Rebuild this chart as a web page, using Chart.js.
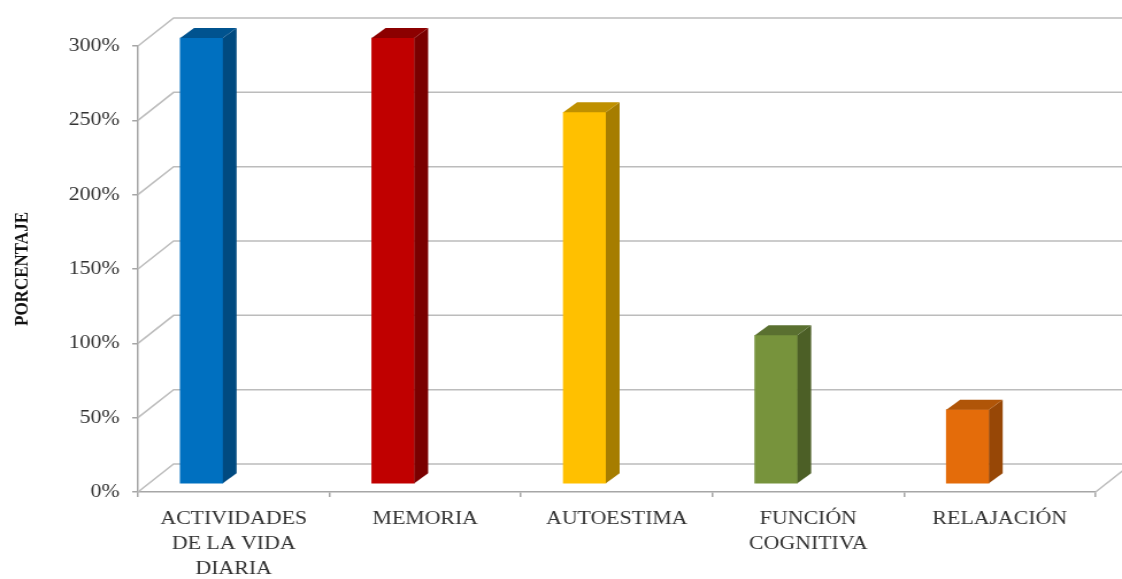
<!DOCTYPE html>
<html>
<head>
<meta charset="utf-8">
<script src="https://cdn.jsdelivr.net/npm/chart.js@4.4.1/dist/chart.umd.min.js"></script>
<style>
  html, body { margin: 0; padding: 0; background: #fff; overflow: hidden; }
  /* the source picture is stretched sideways, so the canvas is too */
  #wrap { width: 976px; height: 579px; transform: scaleX(1.1496); transform-origin: 0 0; }
</style>
</head>
<body>
<div id="wrap"><canvas id="myChart" width="976" height="579"></canvas></div>
<script>
const categories = [
  ['ACTIVIDADES', 'DE LA VIDA', 'DIARIA'],
  'MEMORIA',
  'AUTOESTIMA',
  ['FUNCIÓN', 'COGNITIVA'],
  'RELAJACIÓN'
];
const porcentaje = [300, 300, 250, 100, 50];
const yTicks = [0, 50, 100, 150, 200, 250, 300];

const frontColors = ['#0070c0', '#c00000', '#ffc000', '#77933c', '#e46c0a'];
const sideColors = ['#004a80', '#7a0000', '#a67d00', '#4c5f26', '#974706'];
const topColors = ['#00538f', '#8c0000', '#bf9000', '#5a7030', '#b05508'];

const WALL_DX = 31, WALL_DY = 28;   // depth of the back wall
const BAR_DX = 12, BAR_DY = 10;     // depth of each column
const BAR_SHIFT_X = -28, BAR_SHIFT_Y = -8;
const SERIF = "'Liberation Serif', 'Times New Roman', serif";

const depthPlugin = {
  id: 'depth',
  beforeDatasetsDraw(chart) {
    const { ctx, chartArea: a, scales: { y } } = chart;
    ctx.save();
    ctx.strokeStyle = '#bcbcbc';
    ctx.lineWidth = 1.5;
    y.ticks.forEach((t) => {
      const py = y.getPixelForValue(t.value);
      ctx.beginPath();
      ctx.moveTo(a.left, py);
      ctx.lineTo(a.left + WALL_DX, py - WALL_DY);
      ctx.lineTo(chart.width, py - WALL_DY);
      ctx.stroke();
    });
    ctx.beginPath();
    ctx.moveTo(a.right, a.bottom);
    ctx.lineTo(a.right + WALL_DX, a.bottom - WALL_DY);
    ctx.stroke();
    ctx.restore();

    // columns sit a little behind the front of the floor
    ctx.save();
    ctx.translate(BAR_SHIFT_X, BAR_SHIFT_Y);
  },
  afterDatasetsDraw(chart) {
    const { ctx } = chart;
    chart.getDatasetMeta(0).data.forEach((bar, i) => {
      const { x, y, base, width } = bar.getProps(['x', 'y', 'base', 'width'], true);
      const l = x - width / 2, r = x + width / 2;
      ctx.fillStyle = sideColors[i];
      ctx.beginPath();
      ctx.moveTo(r, y);
      ctx.lineTo(r + BAR_DX, y - BAR_DY);
      ctx.lineTo(r + BAR_DX, base - BAR_DY);
      ctx.lineTo(r, base);
      ctx.closePath();
      ctx.fill();
      ctx.fillStyle = topColors[i];
      ctx.beginPath();
      ctx.moveTo(l, y);
      ctx.lineTo(l + BAR_DX, y - BAR_DY);
      ctx.lineTo(r + BAR_DX, y - BAR_DY);
      ctx.lineTo(r, y);
      ctx.closePath();
      ctx.fill();
    });
    ctx.restore();
  }
};

new Chart(document.getElementById('myChart').getContext('2d'), {
  type: 'bar',
  data: {
    labels: categories,
    datasets: [{
      data: porcentaje,
      backgroundColor: frontColors,
      borderWidth: 0,
      barThickness: 37,
      clip: false
    }]
  },
  options: {
    responsive: false,
    animation: false,
    devicePixelRatio: 1,
    layout: { padding: { left: 0, right: 23, top: 46, bottom: 0 } },
    plugins: {
      legend: { display: false },
      tooltip: { enabled: false }
    },
    scales: {
      x: {
        afterFit: (s) => { s.height = 87; },
        grid: { drawOnChartArea: false, drawTicks: true, tickLength: 5, color: '#a6a6a6', lineWidth: 1.5 },
        border: { display: true, color: '#a6a6a6', width: 1.5 },
        ticks: {
          autoSkip: false, maxRotation: 0, padding: 10, color: '#333333',
          font: { family: SERIF, size: 19, lineHeight: 1.3 }
        }
      },
      y: {
        min: 0,
        max: 300,
        afterFit: (s) => { s.width = 120; },
        afterBuildTicks: (s) => { s.ticks = yTicks.map((v) => ({ value: v })); },
        grid: { drawOnChartArea: false, drawTicks: true, tickLength: 5, color: '#a6a6a6', lineWidth: 1.5 },
        border: { display: true, color: '#a6a6a6', width: 1.5 },
        ticks: {
          padding: 11, color: '#333333',
          font: { family: SERIF, size: 19 },
          callback: (v) => v + '%'
        },
        title: {
          display: true, text: 'PORCENTAJE', color: '#111111',
          padding: { top: 9, bottom: 0 },
          font: { family: SERIF, size: 17, weight: 'bold', lineHeight: 1.2 }
        }
      }
    }
  },
  plugins: [depthPlugin]
});
</script>
</body>
</html>
